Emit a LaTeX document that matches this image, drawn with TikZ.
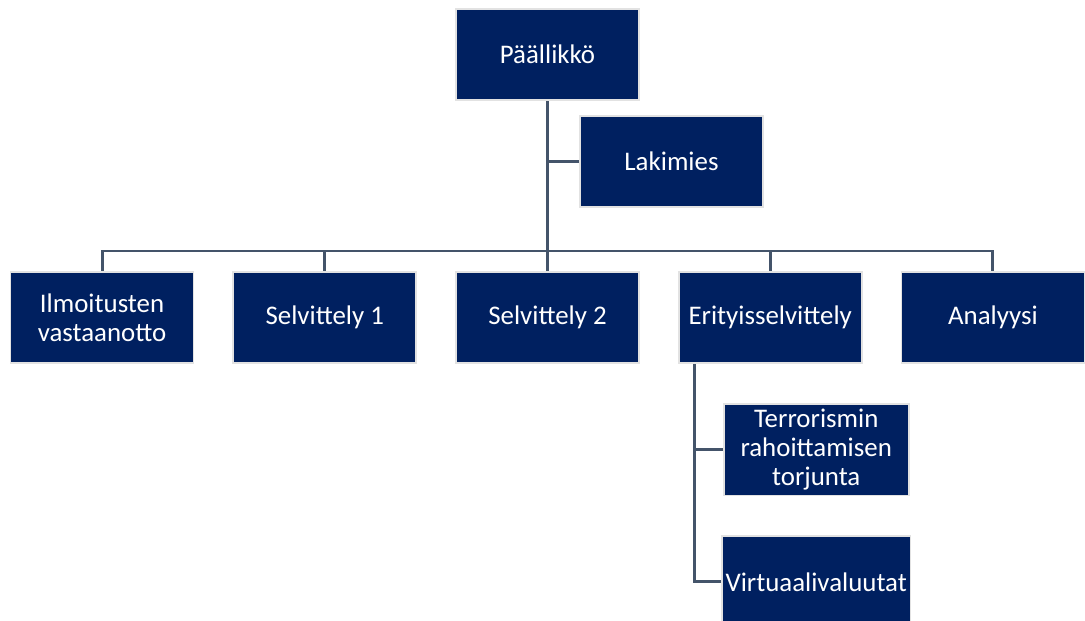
\documentclass[tikz,border=0pt]{standalone}
\usepackage{fontspec}
\setmainfont{Carlito}
\usepackage{xcolor}
\usepackage{tikz}
\usetikzlibrary{positioning,calc}
\definecolor{navy}{HTML}{002060}
\definecolor{slate}{HTML}{44546A}
\definecolor{rim}{HTML}{E2E2E2}
\tikzset{
  unit/.style={draw=rim,line width=1pt,fill=navy,text=white,align=center,inner sep=2pt,
    minimum width=36.6mm,minimum height=18.3mm,font=\fontsize{15.3}{16.5}\selectfont},
  subunit/.style={unit,minimum width=37mm},
  link/.style={draw=slate,line width=1.7pt}
}

\begin{document}
\begin{tikzpicture}[x=0.02cm,y=-0.02cm,node distance=7.6mm and 7.6mm]
 \useasboundingbox (0,0) rectangle (1085,621);
 \node[unit] (boss) at (547.5,54.5) {Päällikkö};
 \node[unit] (lawyer) at (671.5,161.5) {Lakimies};
 \node[unit] (sel2) at (547.5,317.5) {Selvittely 2};
 \node[unit,left=of sel2] (sel1) {Selvittely 1};
 \node[unit,left=of sel1] (ilmo) {Ilmoitusten\\vastaanotto};
 \node[unit,right=of sel2] (erit) {Erityisselvittely};
 \node[unit,right=of erit] (ana) {Analyysi};
 \node[subunit,below=7.8mm of erit.south west,anchor=north west,xshift=9mm] (terror) {Terrorismin\\rahoittamisen\\torjunta};
 \node[subunit,below=7.8mm of terror] (virtu) {Virtuaalivaluutat};
 \coordinate (bar) at (547.5,251);
 \coordinate (subtrunk) at ([xshift=3.4mm]erit.south west);
 \draw[link] (boss.south) -- (bar);
 \draw[link] (lawyer.west) -- (boss.south |- lawyer.west);
 \foreach \n in {ilmo,sel1,sel2,erit,ana}
  \draw[link] (bar) -| (\n.north);
 \draw[link] (subtrunk) |- (terror.west);
 \draw[link] (subtrunk) |- (virtu.west);
\end{tikzpicture}
\end{document}
